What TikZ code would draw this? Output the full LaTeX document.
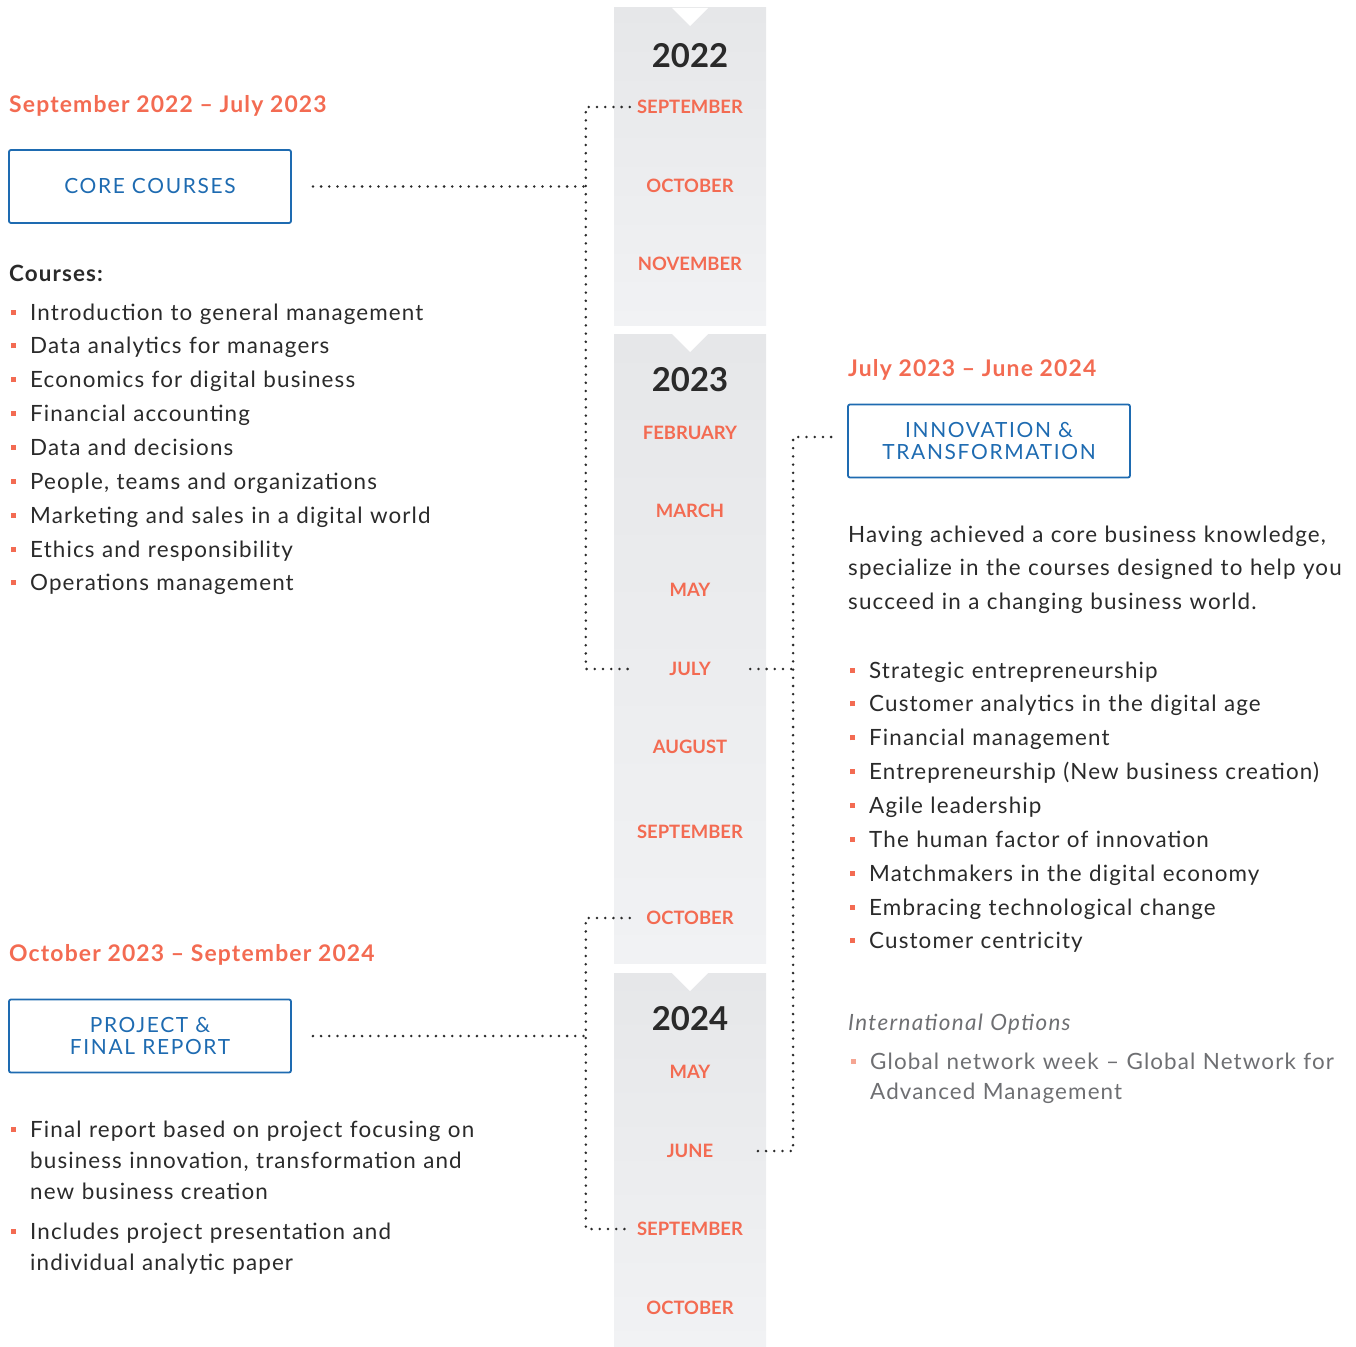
\documentclass[tikz,border=0pt]{standalone}
\usepackage{fontspec}
\setmainfont{Lato}[LetterSpace=5]
\newfontfamily\plainfont{Lato}
\newfontfamily\boxfont{Lato}[LetterSpace=8]

\definecolor{coral}{HTML}{F36B52}
\definecolor{paleCoral}{HTML}{F5A592}
\definecolor{boxBlue}{HTML}{1E6BB1}
\definecolor{ink}{HTML}{2A2A2A}
\definecolor{mute}{HTML}{6E6F72}
\definecolor{colTop}{HTML}{E6E7E9}
\definecolor{colBot}{HTML}{F1F2F4}

\newcommand{\bul}{\leavevmode\llap{\textcolor{coral}{\rule[5.5bp]{5bp}{5bp}}\hspace{14bp}}}
\newcommand{\gbul}{\leavevmode\llap{\textcolor{paleCoral}{\rule[5.5bp]{5bp}{5bp}}\hspace{14bp}}}

\tikzset{
  month/.style={font=\plainfont\bfseries\fontsize{18.5}{18.5}\selectfont, text=coral, minimum width=120bp, inner sep=0pt},
  year/.style={font=\plainfont\bfseries\fontsize{33}{33}\selectfont, text=ink, inner sep=0pt},
  stagebox/.style={draw=boxBlue, line width=1.8bp, rounded corners=2bp, minimum width=282bp, minimum height=73bp, text=boxBlue, align=center, font=\boxfont\fontsize{21}{22}\selectfont},
  period/.style={anchor=base west, inner sep=0pt, text=coral, font=\bfseries\fontsize{23}{23}\selectfont},
  list/.style={anchor=base west, inner sep=0pt, text=ink, text width=600bp, align=left, font=\fontsize{22.5}{34}\selectfont},
  dotline/.style={draw=ink, line width=2.8bp, line cap=round, dash pattern=on 0bp off 8.2bp}
}

\begin{document}
\begin{tikzpicture}[x=1bp,y=-1bp]
\useasboundingbox (0,0) rectangle (1356,1347);

% timeline column
\shade[top color=colTop, bottom color=colBot] (614,8) rectangle (766,325); % 2022
\shade[top color=colTop, bottom color=colBot] (614,334) rectangle (766,963); % 2023
\shade[top color=colTop, bottom color=colBot] (614,973) rectangle (766,1347); % 2024
\fill[white] (672,8) -- (708,8) -- (690,26) -- cycle;
\fill[white] (672,334) -- (708,334) -- (690,352) -- cycle;
\fill[white] (672,973) -- (708,973) -- (690,991) -- cycle;

% 2022
\node[year] (y22) at (690,56) {2022};
\node[month] (m22sep) at (690,107) {SEPTEMBER};
\node[month] (m22oct) at (690,186) {OCTOBER};
\node[month] (m22nov) at (690,264) {NOVEMBER};

% 2023
\node[year] (y23) at (690,380) {2023};
\node[month] (m23feb) at (690,433) {FEBRUARY};
\node[month] (m23mar) at (690,511) {MARCH};
\node[month] (m23may) at (690,590) {MAY};
\node[month] (m23jul) at (690,669) {JULY};
\node[month] (m23aug) at (690,747) {AUGUST};
\node[month] (m23sep) at (690,832) {SEPTEMBER};
\node[month] (m23oct) at (690,918) {OCTOBER};

% 2024
\node[year] (y24) at (690,1019) {2024};
\node[month] (m24may) at (690,1072) {MAY};
\node[month] (m24jun) at (690,1151) {JUNE};
\node[month] (m24sep) at (690,1229) {SEPTEMBER};
\node[month] (m24oct) at (690,1308) {OCTOBER};

% left: core courses
\node[period] (p1) at (9,113) {September 2022 -- July 2023};
\node[stagebox] (core) at (150,186.5) {CORE COURSES};
\node[list, font=\bfseries\fontsize{22.5}{34}\selectfont] (courses) at (9,281) {Courses:};
\node[list] (clist) at (30,320) {\bul Introduction to general management\\
  \bul Data analytics for managers\\
  \bul Economics for digital business\\
  \bul Financial accounting\\
  \bul Data and decisions\\
  \bul People, teams and organizations\\
  \bul Marketing and sales in a digital world\\
  \bul Ethics and responsibility\\
  \bul Operations management};

% left: project
\node[period] (p3) at (9,961) {October 2023 -- September 2024};
\node[stagebox] (project) at (150,1036) {PROJECT \&\\FINAL REPORT};
\node[list, font=\fontsize{22.5}{31.5}\selectfont] (plist1) at (30,1137) {\bul Final report based on project focusing on\\
  business innovation, transformation and\\
  new business creation};
\node[list, font=\fontsize{22.5}{31.5}\selectfont] (plist2) at (30,1239) {\bul Includes project presentation and\\
  individual analytic paper};

% right: innovation
\node[period] (p2) at (848,376) {July 2023 -- June 2024};
\node[stagebox] (innov) at (989,441) {INNOVATION \&\\TRANSFORMATION};
\node[list] (intro) at (848,542) {Having achieved a core business knowledge,\\
  specialize in the courses designed to help you\\
  succeed in a changing business world.};
\node[list] (ilist) at (869,678) {\bul Strategic entrepreneurship\\
  \bul Customer analytics in the digital age\\
  \bul Financial management\\
  \bul Entrepreneurship (New business creation)\\
  \bul Agile leadership\\
  \bul The human factor of innovation\\
  \bul Matchmakers in the digital economy\\
  \bul Embracing technological change\\
  \bul Customer centricity};
\node[list, text=mute, font=\itshape\fontsize{22.5}{31}\selectfont\addfontfeature{LetterSpace=6}] (intl) at (848,1030) {International Options};
\node[list, text=mute, font=\fontsize{22.5}{31}\selectfont] (glist) at (870,1069) {\gbul Global network week -- Global Network for\\
  Advanced Management};

% dotted connectors
\draw[dotline] (m22sep.west) -- ++(-44,0) |- (m23jul.west);
\draw[dotline] ([xshift=21bp]core.east) -- ++(274,0);
\draw[dotline] ([xshift=-16bp,yshift=4bp]innov.west) -- ++(-38,0) |- (m24jun.east);
\draw[dotline] (m23jul.east) -- ++(44,0);
\draw[dotline] (m23oct.west) -- ++(-44,0) |- (m24sep.west);
\draw[dotline] ([xshift=21bp]project.east) -- ++(274,0);
\end{tikzpicture}
\end{document}
